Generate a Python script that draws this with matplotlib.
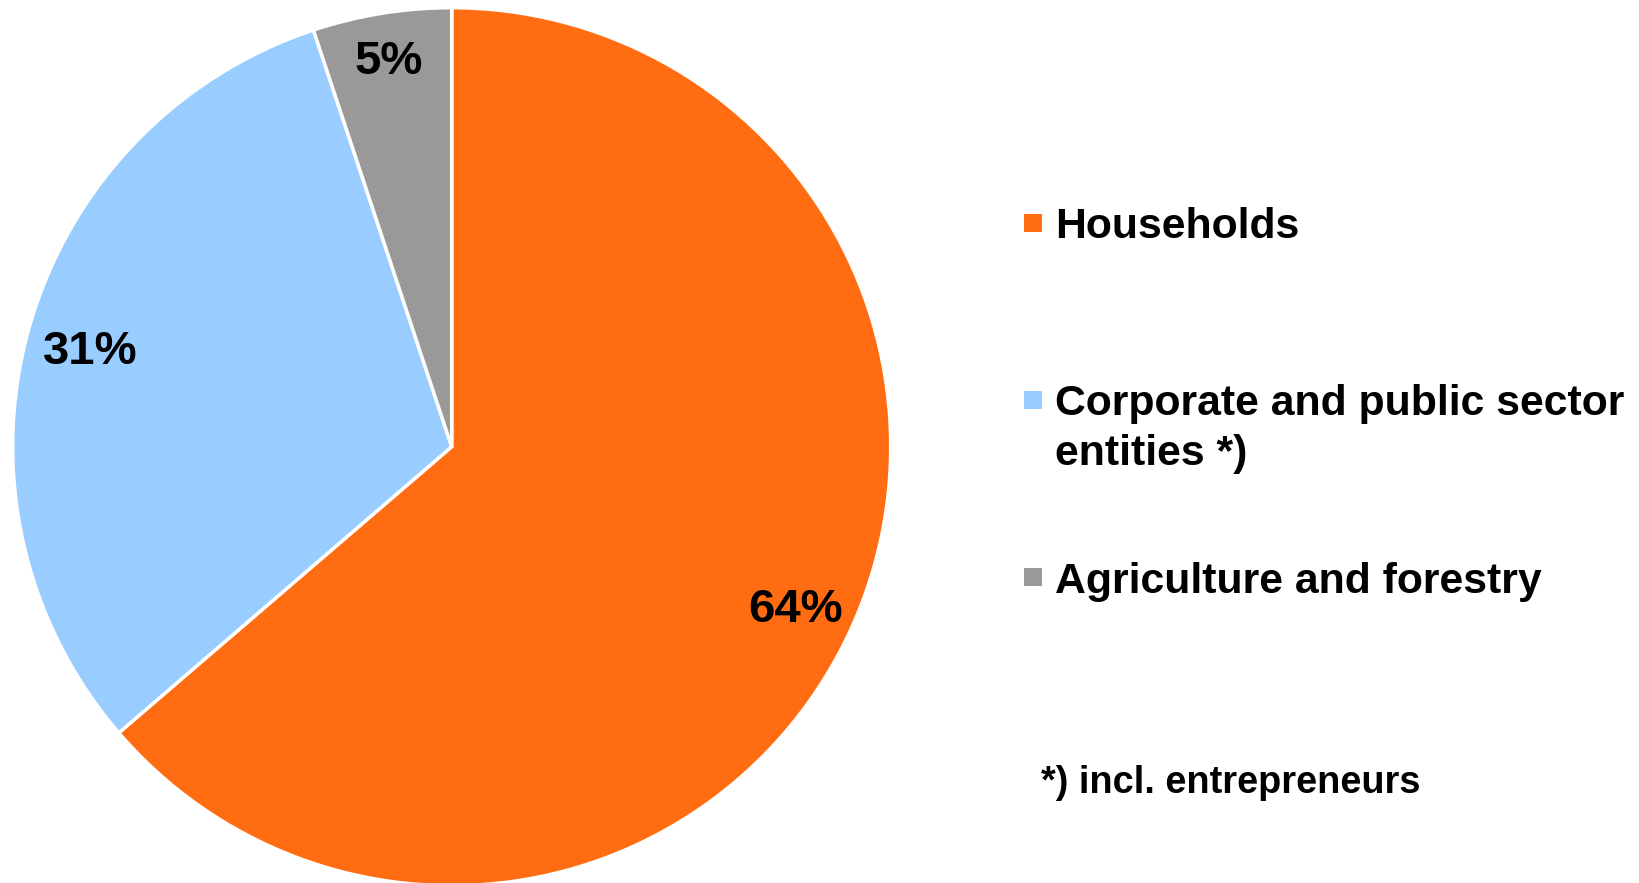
import matplotlib
matplotlib.use("Agg")
import numpy as np
import matplotlib.pyplot as plt
from matplotlib.patches import Rectangle

categories = ["Households", "Corporate and public sector\nentities *)", "Agriculture and forestry"]
values = [63.7, 31.2, 5.1]
colors = ["#FF6C11", "#99CCFF", "#999999"]
footnote = "*) incl. entrepreneurs"

W, H = 1639, 883
plt.rcParams['font.family'] = ['Liberation Sans', 'DejaVu Sans']
fig = plt.figure(figsize=(W / 100, H / 100), dpi=100)
ax = fig.add_axes([0, 0, 1, 1])

cx, cy, R = 451.7, H - 446.7, 439
label_dist = [0.862, 0.855, 0.90]

wedges, texts = ax.pie(
    values, colors=colors, startangle=90, counterclock=False,
    center=(cx, cy), radius=R,
    wedgeprops=dict(edgecolor='white', linewidth=2.5),
)
total = sum(values)
for w, v, d in zip(wedges, values, label_dist):
    mid = np.deg2rad((w.theta1 + w.theta2) / 2)
    ax.text(cx + d * R * np.cos(mid), cy + d * R * np.sin(mid),
            f"{100 * v / total:.0f}%", ha='center', va='center_baseline',
            fontsize=34, fontweight='bold', color='black')

ax.set_xlim(0, W)
ax.set_ylim(0, H)
ax.set_aspect('equal')
ax.axis('off')

# legend
legend_y = [223, 400, 577]
line_gap = 50
for cat, col, y in zip(categories, colors, legend_y):
    ax.add_patch(Rectangle((1024, H - y - 9), 18, 18, facecolor=col, edgecolor='none'))
    for k, line in enumerate(cat.split('\n')):
        ax.text(1055, H - y - k * line_gap, line, fontsize=30.8, fontweight='bold',
                va='center_baseline', ha='left')

ax.text(1041, H - 779, footnote, fontsize=27.3, fontweight='bold', va='center_baseline', ha='left')

fig.savefig("out.png", dpi=100)
